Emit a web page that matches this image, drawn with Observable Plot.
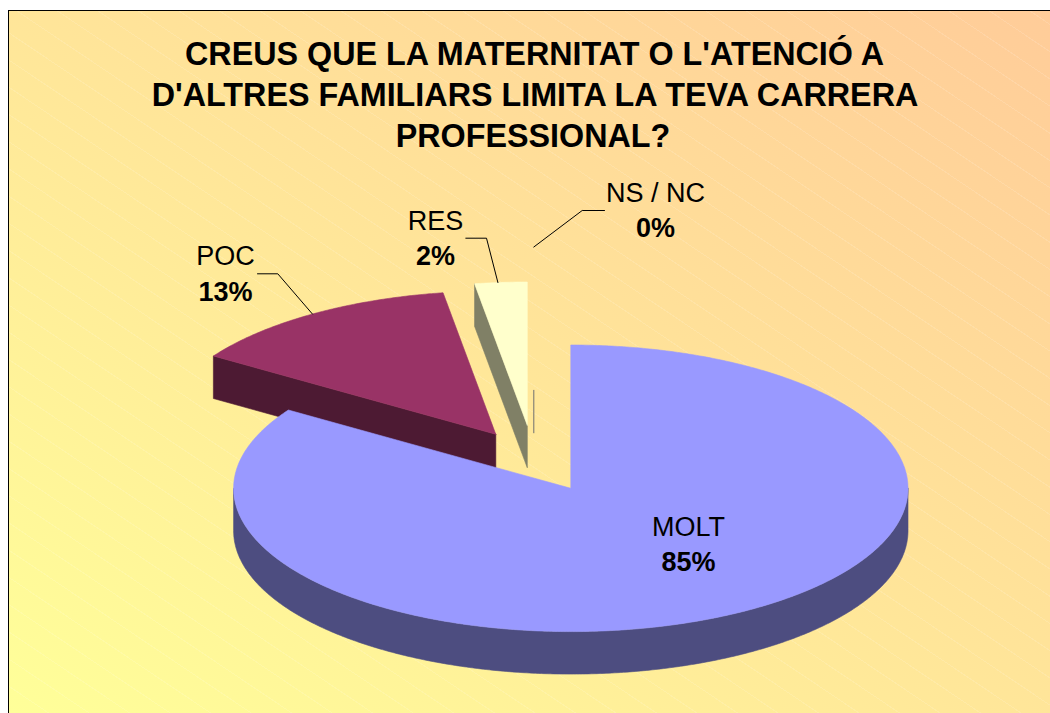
<!DOCTYPE html>
<html>
<head>
<meta charset="utf-8">
<script src="https://cdn.jsdelivr.net/npm/d3@7"></script>
<script src="https://cdn.jsdelivr.net/npm/@observablehq/plot@0.6"></script>
<style>
html,body{margin:0;padding:0;background:#fff;overflow:hidden}
#panel{position:absolute;left:8px;top:10px;width:1042px;height:703px;box-sizing:border-box;
 border-left:1.5px solid #000;border-top:1.5px solid #000;
 background:repeating-linear-gradient(33.9deg,rgba(255,255,255,0) 0 21.6px,rgba(255,255,255,.13) 21.6px 22.6px),
 linear-gradient(to top right,#FFFF99,#FFCC99)}
#chart{position:absolute;left:0;top:0}
#chart svg{background:transparent;display:block}
</style>
</head>
<body>
<div id="panel"></div>
<div id="chart"></div>
<script>
// Data
const categories = ["MOLT", "POC", "RES", "NS / NC"];
const percentLabels = ["85%", "13%", "2%", "0%"];
const values = [84.2, 13.3, 2.5, 0];
const topColors = ["#9999FF", "#993366", "#FFFFCC", "#808080"];
const sideColors = ["#4D4D80", "#4D1A33", "#808066", "#707070"];
const titleLines = ["CREUS QUE LA MATERNITAT O L'ATENCIÓ A", "D'ALTRES FAMILIARS LIMITA LA TEVA CARRERA", "PROFESSIONAL?"];

// Layout
const W = 1050, H = 713;
const cx = 570.3, cy = 487.8, rx = 337.2, ry = 143.3, depth = 42.5;
const explodeX = [0, -75, -43.5, -37];
const explodeY = [0, -54, -63, -98];
const labelX = [688, 225, 435, 655];
const labelY = [535, 264.5, 229, 201];
const titleX = [534, 534.5, 532.5], titleY = [64.5, 105, 146.5];
const leaderElbow = [null, [[257, 273.3], [277.3, 273.3]], [[465.3, 237.7], [486, 237.7]], [[604, 210], [581.7, 210]]];
const leaderShift = [0, 0, -0.5, 0];
const titleSize = 32.3, labelSize = 27;

// Pie geometry from the values
const total = d3.sum(values);
let acc = 0;
const slices = values.map((v, i) => {
  const a0 = acc / total * 360; acc += v; const a1 = acc / total * 360;
  return {i, a0, a1, ox: cx + explodeX[i], oy: cy + explodeY[i]};
});
const rad = Math.PI / 180;
const pt = (s, a, dz = 0) => ({x: s.ox + rx * Math.sin(a * rad), y: s.oy - ry * Math.cos(a * rad) + dz});
const apex = (s, dz = 0) => ({x: s.ox, y: s.oy + dz});
const arc = (s, a0, a1, dz = 0) => {
  const n = Math.max(1, Math.ceil(Math.abs(a1 - a0) * 2));
  return d3.range(n + 1).map(k => pt(s, a0 + (a1 - a0) * k / n, dz));
};
const topFace = s => [apex(s), ...arc(s, s.a0, s.a1), apex(s)];
const radialWall = (s, a) => [apex(s), pt(s, a), pt(s, a, depth), apex(s, depth), apex(s)];
const poly = (pts, color, w = 0.6) => Plot.line(pts, {x: "x", y: "y", fill: color, stroke: color, strokeWidth: w, curve: "linear"});

const [molt, poc, res, nsnc] = slices;
const outerWall = [...arc(molt, 90, 270), ...arc(molt, 270, 90, depth)];
outerWall.push(outerWall[0]);

// Leaders end on the arc at each slice's middle angle
const leader = s => {
  const end = s.i === 3 ? pt(s, 0) : pt(s, (s.a0 + s.a1) / 2 + leaderShift[s.i]);
  return [...leaderElbow[s.i].map(([x, y]) => ({x, y})), end];
};
const leaderMarks = [poc, res, nsnc].map(s => Plot.line(leader(s), {x: "x", y: "y", stroke: "#000", strokeWidth: 1, curve: "linear"}));

const textRows = categories.map((c, i) => ({name: c, pct: percentLabels[i], x: labelX[i], y: labelY[i]}));
const titleRows = titleLines.map((t, i) => ({t, x: titleX[i], y: titleY[i]}));
const font = '"Liberation Sans", Arial, sans-serif';

const plot = Plot.plot({
  width: W, height: H, margin: 0,
  x: {domain: [0, W], range: [0, W], axis: null},
  y: {domain: [0, H], range: [0, H], axis: null},
  style: {background: "transparent", fontFamily: font},
  marks: [
    poly(radialWall(poc, poc.a0), sideColors[1]),
    poly(topFace(poc), topColors[1]),
    poly(radialWall(res, res.a0), sideColors[2]),
    poly(topFace(res), topColors[2]),
    Plot.line([apex(nsnc), apex(nsnc, depth)], {x: "x", y: "y", stroke: sideColors[3], strokeWidth: 1}),
    poly(outerWall, sideColors[0]),
    poly(topFace(molt), topColors[0]),
    ...leaderMarks,
    Plot.text(titleRows, {x: "x", y: "y", text: "t", fontSize: titleSize, fontWeight: "bold", fill: "#000", textAnchor: "middle", lineAnchor: "bottom", fontFamily: font}),
    Plot.text(textRows, {x: "x", y: "y", text: "name", fontSize: labelSize, fill: "#000", textAnchor: "middle", lineAnchor: "bottom", fontFamily: font}),
    Plot.text(textRows, {x: "x", y: d => d.y + 35.5, text: "pct", fontSize: labelSize, fontWeight: "bold", fill: "#000", textAnchor: "middle", lineAnchor: "bottom", fontFamily: font})
  ]
});
document.getElementById("chart").appendChild(plot);
</script>
</body>
</html>
